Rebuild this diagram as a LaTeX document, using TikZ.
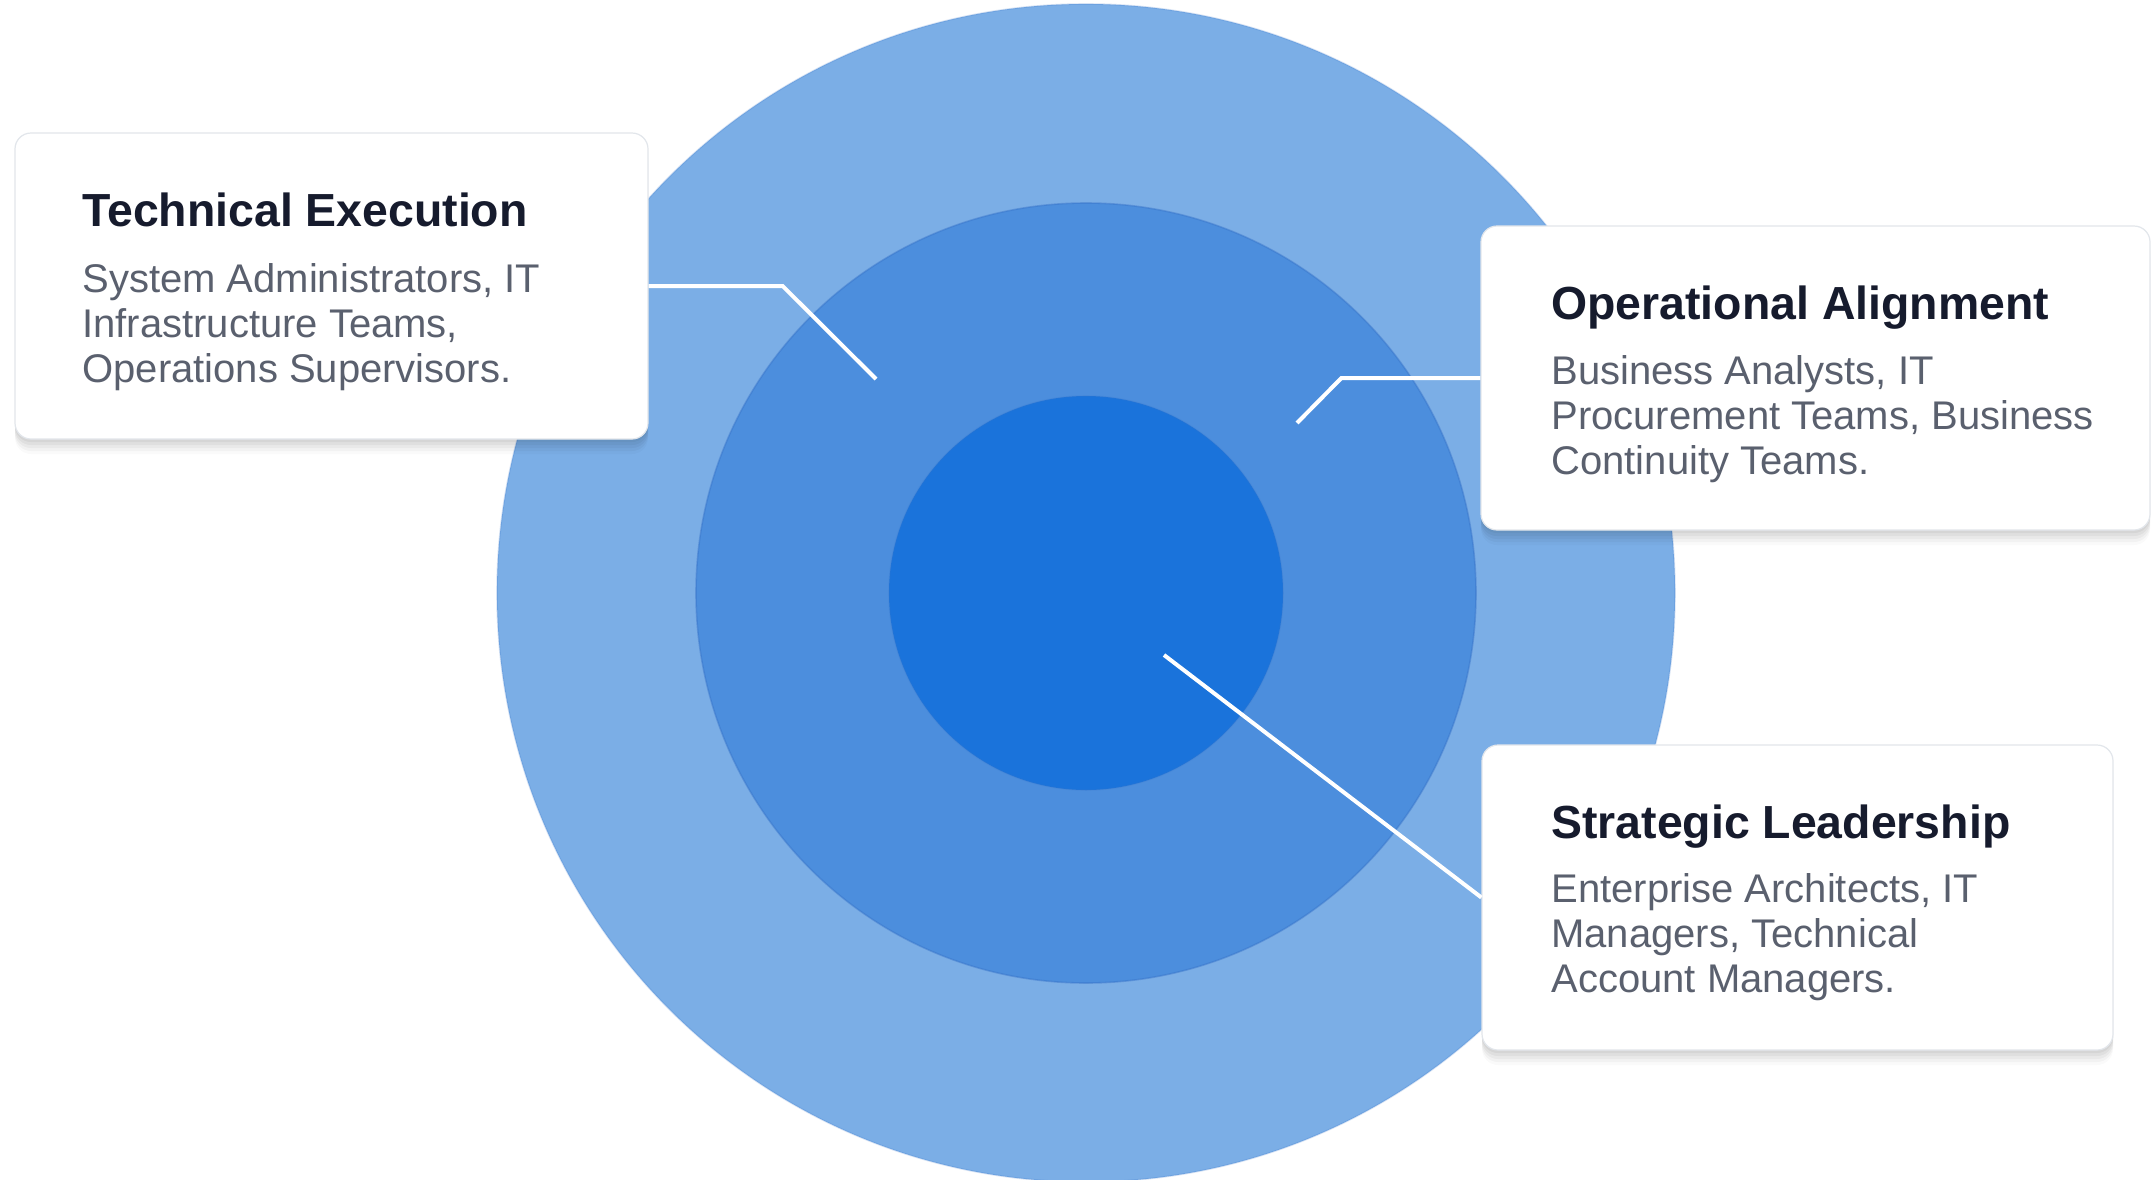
\documentclass[tikz,border=0pt]{standalone}
\usepackage{fontspec}
\setmainfont{Liberation Sans}
\usetikzlibrary{shadows}
\definecolor{ringA}{RGB}{123,174,230}
\definecolor{ringB}{RGB}{76,142,221}
\definecolor{ringC}{RGB}{26,115,219}
\definecolor{ringEdge}{RGB}{55,115,200}
\definecolor{titlecol}{RGB}{22,27,45}
\definecolor{bodycol}{RGB}{90,96,110}
\definecolor{boxline}{RGB}{226,230,235}
\begin{document}
\begin{tikzpicture}[x=0.5pt,y=-0.5pt,
  ring/.style={draw=ringEdge, draw opacity=0.45, line width=0.8pt},
  card/.style={rectangle, rounded corners=8pt, fill=white, draw=boxline, line width=0.6pt, inner sep=0pt,
    drop shadow={shadow xshift=0pt, shadow yshift=-1.5pt, opacity=0.04, fill=black},
    drop shadow={shadow xshift=0pt, shadow yshift=-3pt, opacity=0.04, fill=black},
    drop shadow={shadow xshift=0pt, shadow yshift=-4.5pt, opacity=0.035, fill=black},
    drop shadow={shadow xshift=0pt, shadow yshift=-6pt, opacity=0.03, fill=black},
    drop shadow={shadow xshift=0pt, shadow yshift=-7.5pt, opacity=0.02, fill=black}},
  ttl/.style={inner sep=0pt, text=titlecol, font=\fontsize{23.2pt}{27pt}\selectfont\bfseries},
  bdy/.style={inner sep=0pt, text=bodycol, align=left, font=\fontsize{20pt}{22.6pt}\selectfont},
  conn/.style={draw=white, line width=2pt}]
\fill[white] (0,0) rectangle (2152,1179);
\useasboundingbox (0,0) rectangle (2152,1179);

% concentric rings
\filldraw[ring, fill=ringA, draw opacity=0.2] (1086,593) circle (589);
\filldraw[ring, fill=ringB] (1086,593) circle (390);
\filldraw[ring, fill=ringC, draw opacity=0.2] (1086,593) circle (197);

% anchor points inside rings
\coordinate (p1) at (876,379);
\coordinate (p2) at (1297,423);
\coordinate (p3) at (1164,655);

% cards
\node[card, minimum width=316.5pt, minimum height=153pt] (b1) at (331.5,286) {};
\node[card, minimum width=334.5pt, minimum height=152pt] (b2) at (1815.5,378) {};
\node[card, minimum width=315.5pt, minimum height=152.5pt] (b3) at (1797.5,897.5) {};

% connectors
\draw[conn] (b1.east) -- ++(134,0) -- (p1);
\draw[conn] (b2.west) -- ++(-139,0) -- (p2);
\draw[conn] (p3) -- (b3.west);

% texts
\node[ttl, anchor=base west] (t1) at (82,226) {Technical Execution};
\node[bdy, anchor=north west] (d1) at (82,263) {System Administrators, IT\\Infrastructure Teams,\\Operations Supervisors.};

\node[ttl, anchor=base west] (t2) at (1551,319) {Operational Alignment};
\node[bdy, anchor=north west] (d2) at (1551,355) {Business Analysts, IT\\Procurement Teams, Business\\Continuity Teams.};

\node[ttl, anchor=base west] (t3) at (1551,838) {Strategic Leadership};
\node[bdy, anchor=north west] (d3) at (1551,873) {Enterprise Architects, IT\\Managers, Technical\\Account Managers.};
\end{tikzpicture}
\end{document}
